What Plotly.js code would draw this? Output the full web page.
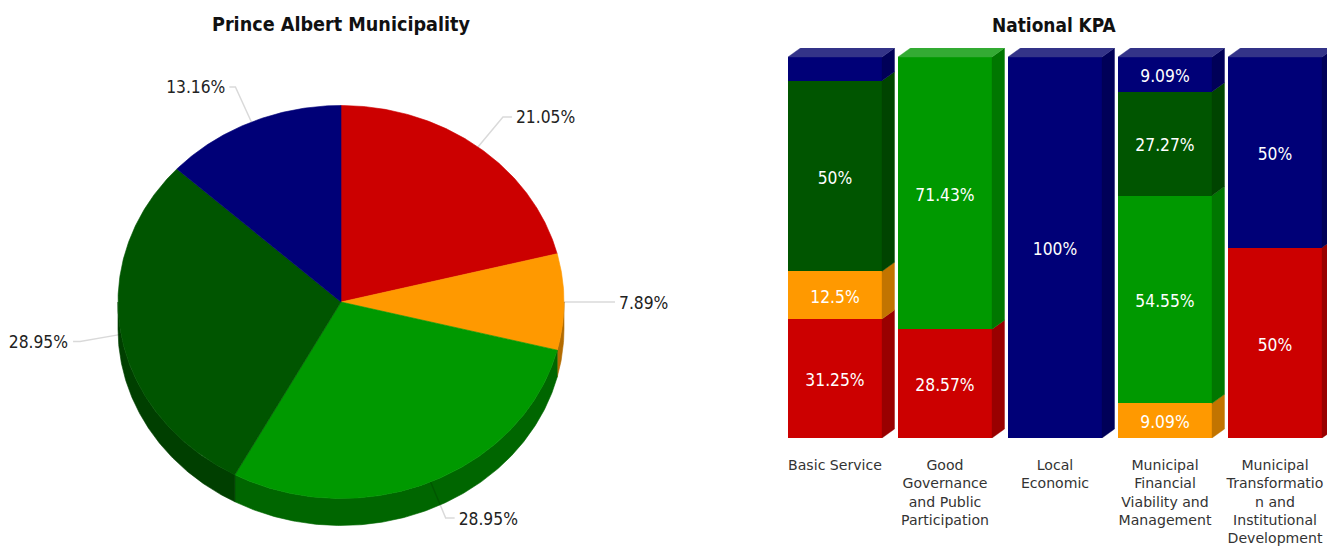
<!DOCTYPE html>
<html><head><meta charset="utf-8">
<script src="https://cdn.plot.ly/plotly-3.0.1.min.js"></script>
<style>html,body{margin:0;padding:0;background:#fff;overflow:hidden}#c{width:1327px;height:546px}</style>
</head><body><div id="c"></div>
<script>
// ---- data ----
const pieNames  = ["Red","Orange","Green","Dark green","Navy"];
const pieValues = [21.05, 7.89, 28.95, 28.95, 13.16];
const pieLabels = ["21.05%","7.89%","28.95%","28.95%","13.16%"];

const kpaCategories = ["Basic Service","Good<br>Governance<br>and Public<br>Participation","Local<br>Economic","Municipal<br>Financial<br>Viability and<br>Management","Municipal<br>Transformatio<br>n and<br>Institutional<br>Development"];
const redValues       = [31.25, 28.57, 0, 0, 50];
const orangeValues    = [12.5, 0, 0, 9.09, 0];
const greenValues     = [0, 71.43, 0, 54.55, 0];
const darkGreenValues = [50, 0, 0, 27.27, 0];
const navyValues      = [6.25, 0, 100, 9.09, 50];
const redLabels       = ["31.25%","28.57%","","","50%"];
const orangeLabels    = ["12.5%","","","9.09%",""];
const greenLabels     = ["","71.43%","","54.55%",""];
const darkGreenLabels = ["50%","","","27.27%",""];
const navyLabels      = ["","","100%","9.09%","50%"];

// ---- styles ----
const W=1327,H=546;
const front=["#cc0000","#ff9900","#009900","#005500","#000077"];
const side =["#990000","#c27400","#007700","#004400","#000058"];
const top3 =["#d63333","#ffad33","#33ab33","#337733","#333388"];
const pieSide=["#990000","#b36b00","#006600","#003f00","#000058"];
const FONT='"DejaVu Sans Condensed","DejaVu Sans",sans-serif';
const cx=341,cy=302,rx=223,ry=196.5,pieDepth=27;
const pieRight=682;
const barL=780,barTop=57,barBot=438,pitch=110,barW=94,bx0=835,dxPx=12.5,dyPx=9;

const traces=[];
const xU=px=>(px-cx)/rx, yU=py=>(cy-py)/ry;
const poly=(xs,ys,color,xa,ya,lw)=>({type:"scatter",mode:"lines",x:xs,y:ys,fill:"toself",fillcolor:color,
  line:{color:color,width:lw===undefined?0.6:lw},hoverinfo:"skip",showlegend:false,xaxis:xa,yaxis:ya});

let cum=0; const angs=pieValues.map(v=>{const a=[cum/100*2*Math.PI,(cum+v)/100*2*Math.PI];cum+=v;return a;});
const d=pieDepth/ry;
angs.forEach((a,i)=>{
  const lo=Math.max(a[0],Math.PI/2),hi=Math.min(a[1],1.5*Math.PI);
  if(hi<=lo)return;
  const xs=[],ys=[],n=Math.ceil((hi-lo)/0.01);
  for(let k=0;k<=n;k++){const t=lo+(hi-lo)*k/n;xs.push(Math.sin(t));ys.push(Math.cos(t));}
  for(let k=n;k>=0;k--){const t=lo+(hi-lo)*k/n;xs.push(Math.sin(t));ys.push(Math.cos(t)-d);}
  xs.push(xs[0]);ys.push(ys[0]);
  traces.push(poly(xs,ys,pieSide[i],"x","y"));
});
angs.forEach((a,i)=>{
  const xs=[0],ys=[0],n=Math.ceil((a[1]-a[0])/0.01);
  for(let k=0;k<=n;k++){const t=a[0]+(a[1]-a[0])*k/n;xs.push(Math.sin(t));ys.push(Math.cos(t));}
  xs.push(0);ys.push(0);
  traces.push(poly(xs,ys,front[i],"x","y"));
});
// leader lines + labels (pixel offsets from the slice mid-point)
const leaders=[
 {e:[25,-30],f:[34,-30],t:[38,-28],pos:"middle right"},
 {e:[43,0],f:[51,0],t:[55,3],pos:"middle right"},
 {e:[15,36],f:[24,36],t:[28,39],pos:"middle right"},
 {e:[-41,7],f:[-48,7],t:[-53,9],pos:"middle left"},
 {e:[-16,-35],f:[-22,-35],t:[-26,-33.5],pos:"middle left"}];
angs.forEach((a,i)=>{
  const m=(a[0]+a[1])/2, px=cx+rx*Math.sin(m), py=cy-ry*Math.cos(m), l=leaders[i];
  traces.push({type:"scatter",mode:"lines",x:[xU(px),xU(px+l.e[0]),xU(px+l.f[0])],y:[yU(py),yU(py+l.e[1]),yU(py+l.f[1])],
    line:{color:"rgba(0,0,0,0.15)",width:1.5},hoverinfo:"skip",showlegend:false,xaxis:"x",yaxis:"y"});
  traces.push({type:"scatter",mode:"text",x:[xU(px+l.t[0])],y:[yU(py+l.t[1])],text:[pieLabels[i]],textposition:l.pos,
    textfont:{family:FONT,size:17.3,color:"#222"},hoverinfo:"skip",showlegend:false,xaxis:"x",yaxis:"y",cliponaxis:false});
});

// stacked bars
const stackVals=[redValues,orangeValues,greenValues,darkGreenValues,navyValues];
const stackLabs=[redLabels,orangeLabels,greenLabels,darkGreenLabels,navyLabels];
const xIdx=kpaCategories.map((_,i)=>i);
const bw=barW/pitch, dxU=dxPx/pitch, yPerPx=100/(barBot-barTop), dyU=dyPx*yPerPx, textDrop=3.5*yPerPx;
stackVals.forEach((vals,s)=>{
  traces.push({type:"bar",x:xIdx,y:vals,width:bw,marker:{color:front[s],line:{width:0}},name:pieNames[s],
    hoverinfo:"skip",showlegend:false,xaxis:"x2",yaxis:"y2"});
});
const lblX=[],lblY=[],lblT=[];
xIdx.forEach(i=>{
  let base=0,lastS=0;
  stackVals.forEach((vals,s)=>{
    const v=vals[i]; if(!v)return;
    const xr=i+bw/2;
    traces.push(poly([xr,xr+dxU,xr+dxU,xr,xr],[base,base+dyU,base+v+dyU,base+v,base],side[s],"x2","y2",0.4));
    if(stackLabs[s][i]){lblX.push(i);lblY.push(base+v/2-textDrop);lblT.push(stackLabs[s][i]);}
    base+=v; lastS=s;
  });
  const xl=i-bw/2,xr=i+bw/2;
  traces.push(poly([xl,xl+dxU,xr+dxU,xr,xl],[base,base+dyU,base+dyU,base,base],top3[lastS],"x2","y2",0.4));
});
traces.push({type:"scatter",mode:"text",x:lblX,y:lblY,text:lblT,textposition:"middle center",
  textfont:{family:FONT,size:17.3,color:"#fff"},hoverinfo:"skip",showlegend:false,xaxis:"x2",yaxis:"y2"});

const off={visible:false,showgrid:false,zeroline:false,fixedrange:true};
const layout={width:W,height:H,margin:{l:0,r:0,t:0,b:0},paper_bgcolor:"#fff",plot_bgcolor:"rgba(0,0,0,0)",
  barmode:"stack",showlegend:false,
  xaxis:Object.assign({},off,{domain:[0,pieRight/W],range:[xU(0),xU(pieRight)]}),
  yaxis:Object.assign({},off,{domain:[0,1],range:[yU(H),yU(0)]}),
  xaxis2:{domain:[barL/W,1],range:[(barL-bx0)/pitch,(W-bx0)/pitch],anchor:"y2",showgrid:false,zeroline:false,showline:false,
    tickmode:"array",tickvals:xIdx,ticktext:kpaCategories,ticks:"",tickangle:0,ticklabelstandoff:17,automargin:false,
    tickfont:{family:'"DejaVu Sans",sans-serif',size:14.1,color:"#333"},fixedrange:true},
  yaxis2:Object.assign({},off,{domain:[(H-barBot)/H,(H-barBot+381+9)/H],range:[0,100*(390/381)],anchor:"x2"}),
  annotations:[
   {xref:"paper",yref:"paper",x:340.5/W,y:1-25/H,text:"<b>Prince Albert Municipality</b>",showarrow:false,xanchor:"center",yanchor:"middle",font:{family:FONT,size:19.6,color:"#111"}},
   {xref:"paper",yref:"paper",x:1054.5/W,y:1-25/H,text:"<b>National KPA</b>",showarrow:false,xanchor:"center",yanchor:"middle",font:{family:FONT,size:18.9,color:"#111"}}
  ]};
Plotly.newPlot("c",traces,layout,{displayModeBar:false,staticPlot:true});
</script></body></html>
